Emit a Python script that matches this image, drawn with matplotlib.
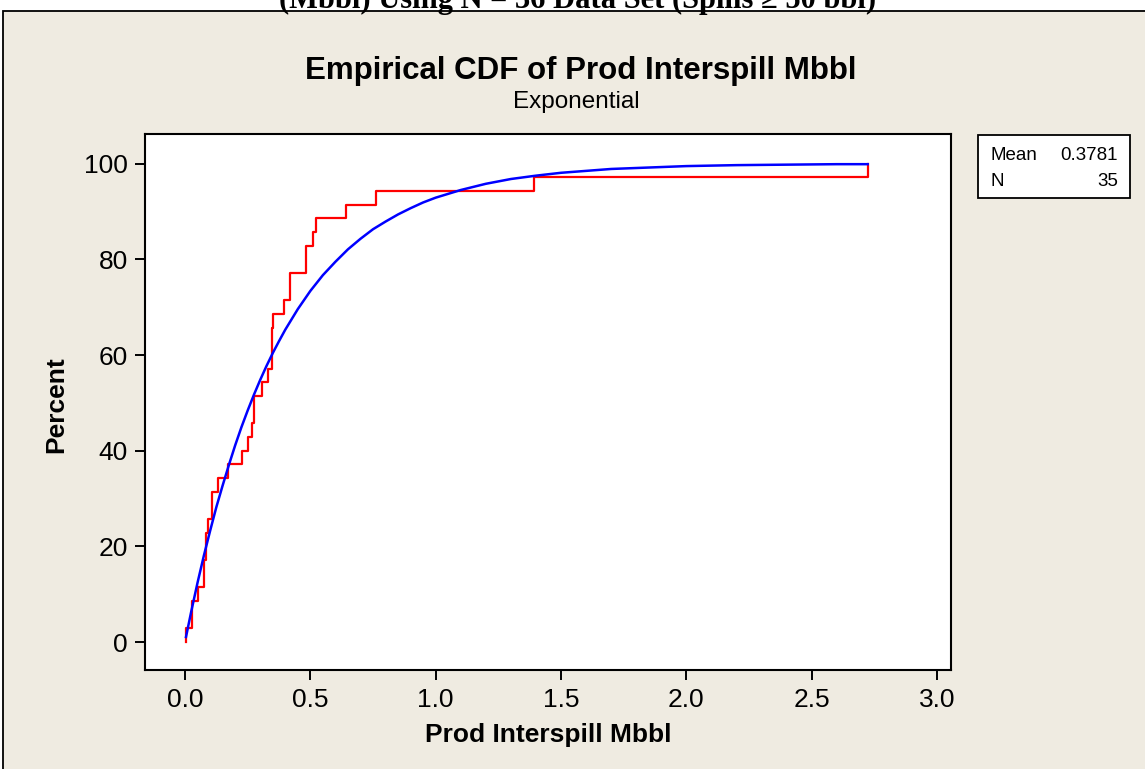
import numpy as np
import matplotlib
matplotlib.use("Agg")
import matplotlib.pyplot as plt
from matplotlib.patches import Rectangle

# ---------------- data ----------------
# sorted sample values (Prod Interspill Mbbl), read from the empirical CDF steps
sample_values = [0.004, 0.027, 0.027, 0.053, 0.076, 0.076, 0.084, 0.084, 0.093,
                 0.107, 0.107, 0.130, 0.170, 0.226, 0.252, 0.266, 0.275, 0.275,
                 0.307, 0.331, 0.347, 0.347, 0.347, 0.353, 0.395, 0.419, 0.419,
                 0.483, 0.483, 0.512, 0.523, 0.642, 0.762, 1.391, 2.723]

# fitted exponential CDF curve (percent)
fit_x = [0.004, 0.025, 0.05, 0.075, 0.1, 0.125, 0.15, 0.175, 0.2, 0.225, 0.25, 0.275,
         0.3, 0.325, 0.35, 0.375, 0.4, 0.45, 0.5, 0.55, 0.6, 0.65, 0.7, 0.75, 0.8,
         0.85, 0.9, 0.95, 1.0, 1.1, 1.2, 1.3, 1.4, 1.5, 1.6, 1.7, 1.8, 1.9,
         2.0, 2.2, 2.4, 2.6, 2.723]
fit_pct = [1.05, 6.4, 12.4, 18.0, 23.2, 28.2, 32.7, 37.0, 41.1, 44.9, 48.4, 51.7,
           54.8, 57.7, 60.4, 62.9, 65.3, 69.6, 73.4, 76.7, 79.5, 82.1, 84.3, 86.3, 87.9,
           89.4, 90.7, 91.9, 92.9, 94.5, 95.8, 96.8, 97.5, 98.1, 98.5, 98.9, 99.1, 99.3,
           99.5, 99.7, 99.8, 99.9, 99.9]

x_ticks = [0.0, 0.5, 1.0, 1.5, 2.0, 2.5, 3.0]
x_ticklabels = ["0.0", "0.5", "1.0", "1.5", "2.0", "2.5", "3.0"]
y_ticks = [0, 20, 40, 60, 80, 100]

stat_names = ["Mean", "N"]
stat_values = ["0.3781", "35"]

title = "Empirical CDF of Prod Interspill Mbbl"
subtitle = "Exponential"
xlabel = "Prod Interspill Mbbl"
ylabel = "Percent"
cut_caption = "(Mbbl) Using N = 36 Data Set (Spills \u2265 50 bbl)"

# ---------------- figure ----------------
W, H = 1145, 769
DPI = 100
plt.rcParams['font.family'] = ['Liberation Sans', 'DejaVu Sans']
fig = plt.figure(figsize=(W / DPI, H / DPI), dpi=DPI, facecolor='white')

def fx(px):
    return px / W

def fy(py):
    return 1 - py / H

beige = '#EFEBE1'
# page panel with border
fig.patches.append(Rectangle((fx(3), fy(H + 10)), fx(W + 20), fy(11) - fy(H + 10),
                             transform=fig.transFigure, facecolor=beige,
                             edgecolor='black', linewidth=1.3, zorder=-5))

# cut caption at the very top (cut off in the source image)
fig.text(fx(578), fy(8), cut_caption, ha='center', va='baseline',
         fontsize=22, fontweight='bold', family=['Liberation Serif', 'DejaVu Serif'])

# axes
ax_l, ax_r, ax_t, ax_b = 144.5, 951.0, 134.0, 670.0
ax = fig.add_axes([fx(ax_l), fy(ax_b), fx(ax_r - ax_l), (ax_b - ax_t) / H])
ax.set_zorder(2)
ax.set_facecolor('white')

x0_px, xpx_per = 185.0, 250.7
y0_px, ypx_per = 642.0, 4.783
ax.set_xlim((ax_l - x0_px) / xpx_per, (ax_r - x0_px) / xpx_per)
ax.set_ylim((y0_px - ax_b) / ypx_per, (y0_px - ax_t) / ypx_per)

n = len(sample_values)
xs = np.array(sample_values)
step_x = np.concatenate([[xs[0]], xs])
step_y = np.arange(0, n + 1) / n * 100
ax.plot(step_x, step_y, drawstyle='steps-post', color='#FF0000', lw=1.6, zorder=3)
ax.plot(fit_x, fit_pct, color='#0000FF', lw=1.8, zorder=4)

ax.set_xticks(x_ticks)
ax.set_xticklabels(x_ticklabels)
ax.set_yticks(y_ticks)
ax.tick_params(axis='both', direction='out', length=7, width=1.4, color='black',
               labelsize=19, pad=5)
ax.tick_params(axis='x', pad=6)
for s in ax.spines.values():
    s.set_linewidth(1.5)
    s.set_color('black')

fig.text(fx(548), fy(742), xlabel, ha='center', va='baseline', fontsize=19,
         fontweight='bold')
fig.text(fx(56), fy(405), ylabel, ha='center', va='center', rotation=90,
         fontsize=19, fontweight='bold')

fig.text(fx(581), fy(79), title, ha='center', va='baseline', fontsize=22.5,
         fontweight='bold')
fig.text(fx(576), fy(108), subtitle, ha='center', va='baseline', fontsize=17.5)

# stats box
bx_l, bx_r, bx_t, bx_b = 978, 1130, 135, 198
fig.patches.append(Rectangle((fx(bx_l), fy(bx_b)), fx(bx_r - bx_l), (bx_b - bx_t) / H,
                             transform=fig.transFigure, facecolor='white',
                             edgecolor='black', linewidth=1.3, zorder=2))
row_y = [155, 181]
for name, val, ry in zip(stat_names, stat_values, row_y):
    fig.text(fx(990), fy(ry), name, ha='left', va='center', fontsize=13.5, zorder=3)
    fig.text(fx(1118), fy(ry), val, ha='right', va='center', fontsize=13.5, zorder=3)

fig.savefig('out.png', dpi=DPI, facecolor='white')
